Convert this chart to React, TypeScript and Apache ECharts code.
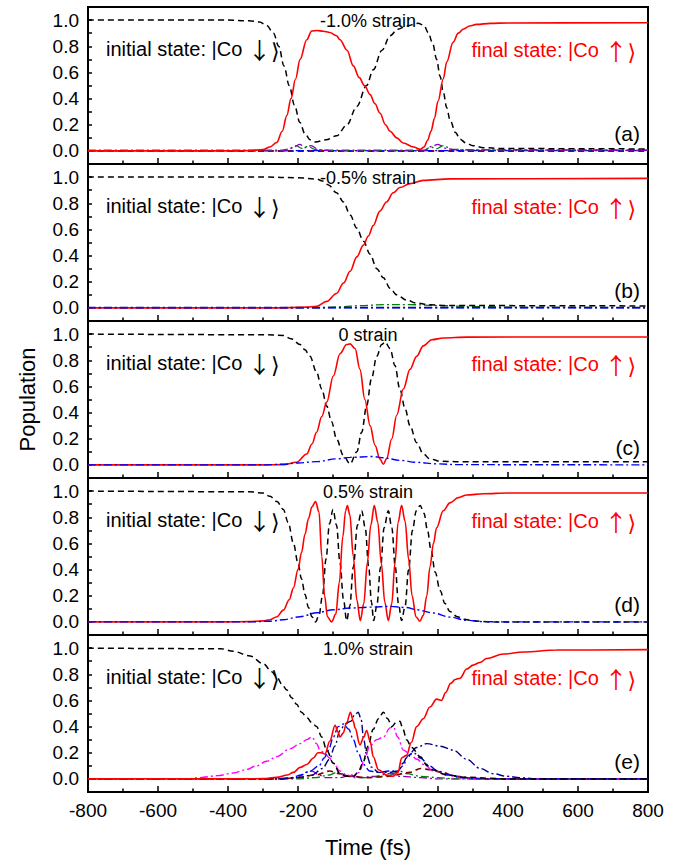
import React, { useEffect, useRef } from "react";
import * as echarts from "echarts";

const FONT = '"Liberation Sans", Arial, Helvetica, sans-serif';
const SYM_FONT = '"Noto Sans CJK JP", "DejaVu Sans", sans-serif';

// ---------- labels ----------
const strainLabels = ["-1.0% strain", "-0.5% strain", "0 strain", "0.5% strain", "1.0% strain"];
const panelLetters = ["(a)", "(b)", "(c)", "(d)", "(e)"];
const initialLabel = "initial state: |Co {s|\u2193}{b|\u27E9}";
const finalLabel = "final state: |Co {s|\u2191}{b|\u27E9}";
const xTickValues = [-800, -600, -400, -200, 0, 200, 400, 600, 800];
const yTickLabels = [0, 0.2, 0.4, 0.6, 0.8, 1.0];

// ---------- panel (a): -1.0% strain ----------
const p1Initial = [[-800,1],[-400,1],[-340,0.995],[-310,0.985],[-290,0.96],[-270,0.9],[-255,0.8],[-240,0.65],[-225,0.5],[-210,0.35],[-195,0.22],[-180,0.13],[-165,0.085],[-150,0.068],[-120,0.085],[-90,0.115],[-60,0.2],[-32,0.34],[-4,0.5],[15,0.62],[40,0.77],[63,0.88],[85,0.93],[110,0.955],[143,0.975],[160,0.96],[172,0.905],[185,0.82],[196,0.7],[206,0.57],[215,0.45],[225,0.33],[234,0.24],[250,0.14],[263,0.09],[280,0.06],[300,0.04],[330,0.025],[380,0.018],[800,0.015]];
const p1Final = [[-800,0],[-400,0],[-340,0.002],[-300,0.01],[-280,0.03],[-261,0.064],[-245,0.15],[-232,0.27],[-220,0.4],[-207,0.55],[-194,0.7],[-175,0.85],[-161,0.916],[-145,0.92],[-128,0.915],[-109,0.905],[-90,0.88],[-80,0.85],[-60,0.77],[-42,0.65],[-25,0.56],[-10,0.5],[6,0.43],[20,0.36],[34,0.29],[50,0.2],[63,0.15],[82,0.1],[101,0.06],[130,0.03],[150,0.012],[160,0.03],[170,0.08],[180,0.15],[190,0.25],[200,0.38],[215,0.55],[225,0.68],[243,0.83],[258,0.9],[272,0.93],[290,0.955],[310,0.967],[350,0.975],[400,0.978],[800,0.98]];
const p1Green = [[-800,0.005],[-250,0.005],[-225,0.015],[-205,0.04],[-190,0.02],[-172,0.035],[-150,0.01],[-100,0.005],[160,0.005],[180,0.03],[195,0.015],[215,0.04],[240,0.012],[300,0.008],[800,0.008]];
const p1Purple = [[-800,0],[-235,0],[-212,0.03],[-195,0.05],[-180,0.025],[-163,0.04],[-140,0.008],[-100,0],[160,0],[182,0.035],[200,0.05],[222,0.02],[250,0.008],[800,0.004]];
const p1Blue = [[-800,0.002],[800,0.002]];
const p1Maroon = [[-800,0],[800,0]];

// ---------- panel (b): -0.5% strain ----------
const p2Initial = [[-800,1],[-300,1],[-200,0.995],[-147,0.985],[-130,0.97],[-113,0.94],[-90,0.88],[-70,0.81],[-51,0.71],[-32,0.61],[-13,0.51],[6,0.41],[25,0.3],[44,0.23],[63,0.15],[82,0.1],[110,0.06],[139,0.037],[177,0.024],[230,0.018],[800,0.015]];
const p2Final = [[-800,0],[-250,0],[-200,0.004],[-175,0.006],[-147,0.012],[-118,0.05],[-90,0.11],[-70,0.19],[-51,0.28],[-32,0.39],[-13,0.48],[1,0.55],[15,0.63],[34,0.74],[53,0.81],[72,0.88],[91,0.92],[120,0.95],[158,0.975],[234,0.986],[800,0.99]];
const p2Green = [[-800,0],[-150,0],[-80,0.008],[-20,0.018],[50,0.025],[120,0.025],[200,0.018],[300,0.01],[450,0.004],[800,0.002]];
const p2Navy = [[-800,0.004],[800,0.004]];
const p2Blue = [[-800,0],[800,0]];

// ---------- panel (c): 0 strain ----------
const p3Initial = [[-800,1],[-300,0.995],[-242,0.99],[-220,0.965],[-194,0.92],[-180,0.88],[-166,0.83],[-147,0.71],[-132,0.58],[-118,0.45],[-104,0.33],[-90,0.2],[-70,0.07],[-51,0.008],[-32,0.1],[-18,0.25],[-4,0.45],[10,0.66],[25,0.83],[39,0.92],[49,0.94],[63,0.89],[77,0.76],[91,0.58],[106,0.43],[120,0.3],[139,0.17],[158,0.084],[177,0.046],[206,0.028],[250,0.025],[800,0.025]];
const p3Final = [[-800,0],[-300,0],[-242,0.002],[-204,0.02],[-175,0.084],[-160,0.16],[-147,0.25],[-132,0.37],[-118,0.48],[-99,0.68],[-80,0.85],[-61,0.92],[-51,0.925],[-37,0.89],[-23,0.73],[-9,0.5],[6,0.3],[20,0.15],[34,0.046],[44,0.005],[53,0.046],[68,0.2],[82,0.38],[101,0.58],[120,0.73],[139,0.83],[158,0.91],[182,0.957],[215,0.97],[282,0.977],[800,0.978]];
const p3Blue = [[-800,0],[-300,0],[-242,0.005],[-199,0.015],[-147,0.025],[-90,0.046],[-51,0.058],[15,0.064],[44,0.055],[91,0.035],[139,0.02],[196,0.008],[260,0.002],[800,0]];

// ---------- panel (d): 0.5% strain ----------
const p4Initial = [[-800,1],[-340,0.995],[-300,0.985],[-280,0.96],[-260,0.92],[-242,0.86],[-228,0.76],[-213,0.6],[-200,0.45],[-190,0.33],[-180,0.21],[-170,0.11],[-160,0.04],[-150,0],[-140,0.05],[-130,0.2],[-120,0.48],[-110,0.75],[-100,0.86],[-90,0.74],[-80,0.45],[-70,0.17],[-61,0.01],[-52,0.12],[-42,0.42],[-30,0.74],[-18,0.85],[-8,0.72],[2,0.42],[10,0.15],[16,0.01],[25,0.12],[36,0.42],[46,0.72],[58,0.85],[68,0.72],[78,0.42],[87,0.14],[96,0.01],[106,0.12],[116,0.4],[127,0.7],[138,0.85],[149,0.89],[160,0.83],[170,0.7],[180,0.55],[192,0.38],[206,0.24],[220,0.14],[234,0.08],[255,0.04],[275,0.02],[300,0.008],[350,0],[800,0]];
const p4Final = [[-800,0],[-400,0],[-340,0.002],[-300,0.008],[-280,0.017],[-260,0.04],[-242,0.09],[-225,0.17],[-213,0.26],[-200,0.4],[-190,0.53],[-180,0.67],[-170,0.79],[-160,0.88],[-150,0.92],[-140,0.84],[-132,0.5],[-124,0.2],[-116,0.04],[-104,0],[-92,0.06],[-82,0.3],[-72,0.65],[-64,0.85],[-59,0.89],[-52,0.82],[-42,0.5],[-32,0.17],[-22,0.01],[-12,0.14],[-2,0.45],[8,0.74],[18,0.89],[28,0.76],[38,0.45],[48,0.15],[58,0.01],[68,0.14],[77,0.45],[86,0.76],[96,0.89],[106,0.77],[116,0.48],[126,0.2],[137,0.04],[148,0.005],[158,0.05],[168,0.2],[177,0.42],[187,0.6],[196,0.72],[215,0.85],[234,0.91],[258,0.95],[282,0.97],[330,0.98],[400,0.985],[800,0.985]];
const p4Blue = [[-800,0],[-340,0],[-280,0.005],[-242,0.017],[-194,0.04],[-147,0.07],[-99,0.093],[-51,0.106],[6,0.113],[63,0.119],[110,0.11],[139,0.093],[187,0.068],[234,0.037],[282,0.012],[330,0.002],[400,0],[800,0]];

// ---------- panel (e): 1.0% strain ----------
const p5Initial = [[-800,1],[-420,0.995],[-385,0.975],[-337,0.94],[-299,0.88],[-275,0.82],[-261,0.78],[-245,0.72],[-232,0.68],[-218,0.62],[-204,0.57],[-190,0.51],[-175,0.47],[-160,0.43],[-147,0.4],[-132,0.32],[-118,0.22],[-99,0.12],[-80,0.04],[-61,0.02],[-42,0.02],[-28,0.05],[-15,0.12],[0,0.25],[15,0.38],[30,0.46],[44,0.51],[56,0.46],[68,0.4],[80,0.43],[91,0.44],[100,0.38],[110,0.3],[125,0.24],[149,0.17],[170,0.1],[187,0.068],[225,0.03],[282,0.013],[350,0.005],[400,0],[800,0]];
const p5Final = [[-800,0],[-350,0],[-300,0.003],[-261,0.012],[-230,0.03],[-213,0.05],[-194,0.088],[-175,0.11],[-156,0.16],[-143,0.2],[-133,0.2],[-123,0.19],[-109,0.29],[-94,0.41],[-86,0.36],[-80,0.32],[-71,0.35],[-61,0.43],[-50,0.51],[-42,0.44],[-37,0.39],[-23,0.26],[-12,0.32],[-4,0.37],[6,0.29],[15,0.17],[30,0.07],[53,0.03],[72,0.02],[86,0.05],[96,0.16],[110,0.18],[124,0.28],[139,0.4],[158,0.46],[177,0.55],[196,0.61],[210,0.6],[222,0.66],[236,0.73],[249,0.76],[263,0.77],[282,0.84],[300,0.87],[320,0.89],[339,0.92],[387,0.955],[444,0.97],[539,0.985],[800,0.988]];
const p5Magenta = [[-800,0],[-520,0],[-480,0.01],[-430,0.025],[-385,0.045],[-350,0.07],[-318,0.1],[-290,0.135],[-261,0.17],[-223,0.23],[-194,0.27],[-175,0.3],[-160,0.32],[-147,0.27],[-137,0.22],[-125,0.2],[-110,0.16],[-99,0.12],[-80,0.06],[-60,0.03],[-40,0.02],[-25,0.05],[-10,0.15],[5,0.25],[25,0.3],[44,0.32],[63,0.39],[72,0.4],[85,0.32],[101,0.22],[120,0.19],[140,0.15],[160,0.11],[187,0.06],[225,0.03],[263,0.01],[300,0],[800,0]];
const p5Blue = [[-800,0],[-260,0],[-220,0.01],[-190,0.03],[-166,0.06],[-140,0.1],[-125,0.16],[-113,0.22],[-99,0.32],[-85,0.4],[-70,0.42],[-55,0.38],[-42,0.3],[-28,0.2],[-13,0.11],[5,0.06],[30,0.05],[60,0.06],[85,0.06],[100,0.1],[115,0.18],[130,0.2],[150,0.16],[175,0.1],[200,0.06],[230,0.03],[270,0.01],[320,0],[800,0]];
const p5Navy = [[-800,0],[-250,0],[-200,0.01],[-160,0.03],[-130,0.08],[-110,0.15],[-95,0.25],[-80,0.37],[-65,0.42],[-50,0.44],[-38,0.49],[-28,0.51],[-20,0.46],[-12,0.3],[-4,0.18],[10,0.09],[30,0.05],[60,0.05],[85,0.06],[100,0.12],[110,0.16],[139,0.24],[168,0.27],[206,0.25],[244,0.22],[282,0.15],[320,0.08],[358,0.04],[396,0.02],[434,0.01],[480,0],[800,0]];
const p5Green = [[-800,0],[-200,0],[-150,0.01],[-110,0.03],[-90,0.05],[-70,0.03],[-40,0.01],[0,0.01],[40,0.02],[70,0.04],[90,0.06],[110,0.04],[150,0.02],[200,0.01],[250,0],[800,0]];
const p5Purple = [[-800,0],[-250,0],[-200,0.01],[-180,0.05],[-160,0.06],[-140,0.03],[-120,0.01],[-80,0.01],[-50,0.03],[-20,0.01],[20,0.02],[60,0.04],[90,0.02],[150,0.01],[200,0],[800,0]];
const p5DarkRed = [[-800,0],[-250,0],[-200,0.01],[-150,0.03],[-110,0.06],[-80,0.04],[-50,0.02],[0,0.01],[60,0.02],[120,0.05],[150,0.08],[180,0.07],[210,0.05],[250,0.02],[300,0.005],[350,0],[800,0]];

// ---------- styling ----------
const DASH = [6, 4];
const DASHDOT = [8, 3, 2, 3];
const C = {
  black: "#000000",
  red: "#ff0000",
  blue: "#0000ff",
  navy: "#000080",
  green: "#008000",
  purple: "#8a00c8",
  maroon: "#800040",
  magenta: "#ff00ff",
  darkred: "#800000",
};

type Spec = { data: number[][]; color: string; dash: any; width: number };

const panelSeries: Spec[][] = [
  [
    { data: p1Maroon, color: C.maroon, dash: DASH, width: 2 },
    { data: p1Blue, color: C.blue, dash: DASHDOT, width: 1.3 },
    { data: p1Green, color: C.green, dash: DASHDOT, width: 1.3 },
    { data: p1Purple, color: C.purple, dash: DASHDOT, width: 1.3 },
    { data: p1Initial, color: C.black, dash: DASH, width: 1.5 },
    { data: p1Final, color: C.red, dash: "solid", width: 1.6 },
  ],
  [
    { data: p2Green, color: C.green, dash: DASHDOT, width: 1.3 },
    { data: p2Navy, color: C.navy, dash: DASHDOT, width: 1.5 },
    { data: p2Initial, color: C.black, dash: DASH, width: 1.5 },
    { data: p2Final, color: C.red, dash: "solid", width: 1.6 },
    { data: p2Blue, color: C.blue, dash: DASHDOT, width: 1.3 },
  ],
  [
    { data: p3Initial, color: C.black, dash: DASH, width: 1.5 },
    { data: p3Final, color: C.red, dash: "solid", width: 1.6 },
    { data: p3Blue, color: C.blue, dash: DASHDOT, width: 1.4 },
  ],
  [
    { data: p4Initial, color: C.black, dash: DASH, width: 1.5 },
    { data: p4Final, color: C.red, dash: "solid", width: 1.6 },
    { data: p4Blue, color: C.blue, dash: DASHDOT, width: 1.4 },
  ],
  [
    { data: p5Purple, color: C.purple, dash: DASHDOT, width: 1.3 },
    { data: p5Green, color: C.green, dash: DASHDOT, width: 1.3 },
    { data: p5DarkRed, color: C.darkred, dash: DASH, width: 1.6 },
    { data: p5Magenta, color: C.magenta, dash: DASHDOT, width: 1.4 },
    { data: p5Blue, color: C.blue, dash: DASHDOT, width: 1.4 },
    { data: p5Navy, color: C.navy, dash: DASHDOT, width: 1.4 },
    { data: p5Initial, color: C.black, dash: DASH, width: 1.5 },
    { data: p5Final, color: C.red, dash: "solid", width: 1.6 },
  ],
];

// ---------- layout ----------
const W = 689;
const H = 863;
const PLOT_LEFT = 88;
const PLOT_WIDTH = 560;
const PANEL_TOP = 7;
const PANEL_H = 157;
const NP = 5;

function stateRich(color: string) {
  return {
    s: { fontFamily: SYM_FONT, fontSize: 23, fill: color, color },
    b: { fontFamily: SYM_FONT, fontSize: 22, fill: color, color },
  };
}

function buildOption() {
  const grids: any[] = [];
  const xAxes: any[] = [];
  const yAxes: any[] = [];
  const series: any[] = [];
  const graphics: any[] = [];

  for (let i = 0; i < NP; i++) {
    const top = PANEL_TOP + i * PANEL_H;
    const last = i === NP - 1;
    grids.push({
      left: PLOT_LEFT,
      top,
      width: PLOT_WIDTH,
      height: PANEL_H,
      show: true,
      borderColor: "#000",
      borderWidth: 2,
      backgroundColor: "transparent",
    });
    xAxes.push({
      gridIndex: i,
      type: "value",
      min: -800,
      max: 800,
      interval: 200,
      axisLine: { show: true, onZero: false, lineStyle: { color: "#000", width: 2 } },
      axisTick: { show: true, inside: true, length: 6, lineStyle: { color: "#000", width: 1.5 } },
      minorTick: { show: true, splitNumber: 2, length: 3.5, lineStyle: { color: "#000", width: 1.5 } },
      splitLine: { show: false },
      minorSplitLine: { show: false },
      axisLabel: {
        show: last,
        color: "#000",
        fontSize: 19,
        fontFamily: FONT,
        margin: 9,
        formatter: (v: number) => (xTickValues.indexOf(v) >= 0 ? String(v) : ""),
      },
      name: last ? "Time (fs)" : "",
      nameLocation: "middle",
      nameGap: 44,
      nameTextStyle: { color: "#000", fontSize: 22, fontFamily: FONT },
    });
    yAxes.push({
      gridIndex: i,
      type: "value",
      min: -0.1,
      max: 1.1,
      interval: 0.1,
      axisLine: { show: true, onZero: false, lineStyle: { color: "#000", width: 2 } },
      axisTick: { show: true, inside: true, length: 4, lineStyle: { color: "#000", width: 1.5 } },
      splitLine: { show: false },
      axisLabel: {
        show: true,
        color: "#000",
        fontSize: 19,
        fontFamily: FONT,
        margin: 9,
        showMinLabel: true,
        showMaxLabel: true,
        formatter: (v: number) => {
          const r = Math.round(v * 10);
          const ok = yTickLabels.some((t) => Math.round(t * 10) === r);
          return ok ? (r / 10).toFixed(1) : "";
        },
      },
      name: i === 2 ? "Population" : "",
      nameLocation: "middle",
      nameRotate: 90,
      nameGap: 50,
      nameTextStyle: { color: "#000", fontSize: 22, fontFamily: FONT },
    });

    panelSeries[i].forEach((s, k) => {
      series.push({
        type: "line",
        xAxisIndex: i,
        yAxisIndex: i,
        data: s.data,
        showSymbol: false,
        symbol: "none",
        smooth: 0.35,
        smoothMonotone: "x",
        silent: true,
        z: 2 + k,
        lineStyle: { color: s.color, width: s.width, type: s.dash },
      });
    });

    graphics.push({
      type: "text",
      x: PLOT_LEFT + PLOT_WIDTH / 2,
      y: top + 14,
      style: {
        text: strainLabels[i],
        fill: "#000",
        fontSize: 18,
        fontFamily: FONT,
        align: "center",
        verticalAlign: "middle",
        textAlign: "center",
        textVerticalAlign: "middle",
      },
      z: 100,
    });
    graphics.push({
      type: "text",
      x: 106,
      y: top + 42,
      style: {
        text: initialLabel,
        fill: "#000",
        fontSize: 20,
        fontFamily: FONT,
        rich: stateRich("#000000"),
        align: "left",
        verticalAlign: "middle",
        textAlign: "left",
        textVerticalAlign: "middle",
      },
      z: 100,
    });
    graphics.push({
      type: "text",
      x: 636,
      y: top + 43,
      style: {
        text: finalLabel,
        fill: "#ff0000",
        fontSize: 20,
        fontFamily: FONT,
        rich: stateRich("#ff0000"),
        align: "right",
        verticalAlign: "middle",
        textAlign: "right",
        textVerticalAlign: "middle",
      },
      z: 100,
    });
    graphics.push({
      type: "text",
      x: 640,
      y: top + PANEL_H - 31,
      style: {
        text: panelLetters[i],
        fill: "#000",
        fontSize: 21,
        fontFamily: FONT,
        align: "right",
        verticalAlign: "middle",
        textAlign: "right",
        textVerticalAlign: "middle",
      },
      z: 100,
    });
  }

  return {
    animation: false,
    backgroundColor: "#ffffff",
    textStyle: { fontFamily: FONT },
    grid: grids,
    xAxis: xAxes,
    yAxis: yAxes,
    series,
    graphic: { elements: graphics },
  };
}

export default function App() {
  const ref = useRef<HTMLDivElement>(null);
  useEffect(() => {
    if (!ref.current) return;
    const chart = echarts.init(ref.current, undefined, { renderer: "svg", width: W, height: H });
    chart.setOption(buildOption() as any);
    return () => {
      chart.dispose();
    };
  }, []);
  return (
    <div
      ref={ref}
      style={{ position: "fixed", left: 0, top: 0, width: W, height: H, background: "#fff" }}
    />
  );
}
